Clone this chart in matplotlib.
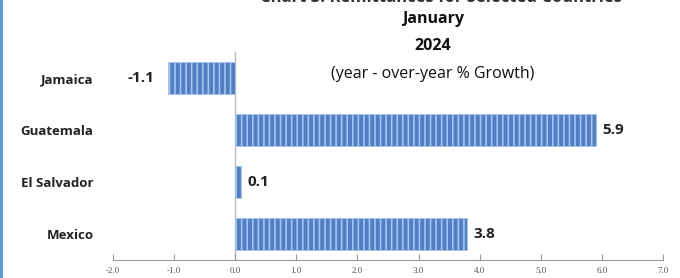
import matplotlib.pyplot as plt
from matplotlib.lines import Line2D

# Datos
countries = ['Mexico', 'El Salvador', 'Guatemala', 'Jamaica']
growth = [3.8, 0.1, 5.9, -1.1]
x_ticks = [-2.0, -1.0, 0.0, 1.0, 2.0, 3.0, 4.0, 5.0, 6.0, 7.0]

plt.rcParams['font.family'] = ['Open Sans', 'DejaVu Sans']
plt.rcParams['hatch.color'] = '#a9c4ea'
plt.rcParams['hatch.linewidth'] = 1.2

fig = plt.figure(figsize=(6.8, 2.78), dpi=100)
ax = fig.add_axes([0.166, 0.065, 0.809, 0.748])

ax.barh(range(len(countries)), growth, height=0.62, color='#4f7fc4',
        edgecolor='#a9c4ea', linewidth=0.6, hatch='|||')

for i, v in enumerate(growth):
    if v < 0:
        ax.text(v - 0.22, i, f'{v:.1f}', ha='right', va='center',
                fontsize=11, fontweight='bold', color='#222222')
    else:
        ax.text(v + 0.1, i, f'{v:.1f}', ha='left', va='center',
                fontsize=11, fontweight='bold', color='#222222')

ax.set_xlim(-2, 7)
ax.set_ylim(-0.5, 3.5)
ax.set_xticks(x_ticks)
ax.set_xticklabels([f'{t:.1f}' for t in x_ticks], fontsize=6.5,
                   color='#555555', family='Liberation Serif')
ax.set_yticks(range(len(countries)))
ax.set_yticklabels(countries, fontsize=9.5, fontweight='bold', color='#222222')
ax.tick_params(axis='y', length=0, pad=14)
ax.tick_params(axis='x', direction='in', length=4, color='#999999', pad=5)

for s in ['top', 'right', 'left']:
    ax.spines[s].set_visible(False)
ax.spines['bottom'].set_color('#999999')
ax.axvline(0, color='#bbbbbb', linewidth=1, zorder=0)

# Títulos
fig.text(0.648, 1.012, 'Chart 3: Remittances for Selected Countries',
         ha='center', va='center', fontsize=12, fontweight='bold', color='#333333')
fig.text(0.637, 0.932, 'January', ha='center', va='center',
         fontsize=11.5, fontweight='bold', color='#111111')
fig.text(0.637, 0.835, '2024', ha='center', va='center',
         fontsize=11.5, fontweight='bold', color='#111111')
fig.text(0.637, 0.735, '(year - over-year % Growth)', ha='center', va='center',
         fontsize=11.5, color='#111111')

# Borde izquierdo azul
fig.add_artist(Line2D([0.002, 0.002], [0, 1], transform=fig.transFigure,
                      color='#5b9bd5', linewidth=3))

fig.savefig('out.png', dpi=100)
